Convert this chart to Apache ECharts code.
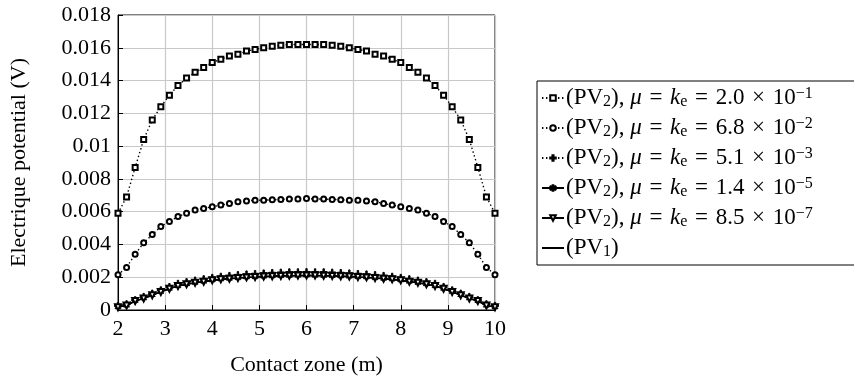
<!DOCTYPE html>
<html>
<head>
<meta charset="utf-8">
<script src="https://cdn.jsdelivr.net/npm/echarts@6/dist/echarts.min.js"></script>
<style>
  html, body { margin: 0; padding: 0; background: #fff; }
  #chart { width: 854px; height: 382px; }
</style>
</head>
<body>
<div id="chart"></div>
<script>
// contact zone positions (m)
var xs = [2.000, 2.182, 2.364, 2.545, 2.727, 2.909, 3.091, 3.273, 3.455, 3.636, 3.818,
  4.000, 4.182, 4.364, 4.545, 4.727, 4.909, 5.091, 5.273, 5.455, 5.636, 5.818, 6.000,
  6.182, 6.364, 6.545, 6.727, 6.909, 7.091, 7.273, 7.455, 7.636, 7.818, 8.000, 8.182,
  8.364, 8.545, 8.727, 8.909, 9.091, 9.273, 9.455, 9.636, 9.818, 10.000];

// PV2, mu = ke = 2.0e-1
var pvA = [0.0059, 0.0069, 0.0087, 0.0104, 0.0116, 0.0124, 0.0131, 0.0137, 0.01415, 0.0145, 0.0148,
  0.0151, 0.0153, 0.0155, 0.0156, 0.0158, 0.0159, 0.0160, 0.0161, 0.01615, 0.0162, 0.0162, 0.0162,
  0.0162, 0.0162, 0.01615, 0.0161, 0.0160, 0.0159, 0.0158, 0.0156, 0.0155, 0.0153, 0.0151, 0.0148,
  0.0145, 0.01415, 0.0137, 0.0131, 0.0124, 0.0116, 0.0104, 0.0087, 0.0069, 0.0059];
// PV2, mu = ke = 6.8e-2
var pvB = [0.00215, 0.0026, 0.0034, 0.0041, 0.0046, 0.0051, 0.0054, 0.0057, 0.0059, 0.0061, 0.0062,
  0.0063, 0.0064, 0.0065, 0.0066, 0.00665, 0.0067, 0.0067, 0.00672, 0.00675, 0.00677, 0.00678, 0.0068,
  0.00678, 0.00677, 0.00675, 0.00672, 0.0067, 0.0067, 0.00665, 0.0066, 0.0065, 0.0064, 0.0063, 0.0062,
  0.0061, 0.0059, 0.0057, 0.0054, 0.0051, 0.0046, 0.0041, 0.0034, 0.0026, 0.00215];
// PV2, mu = ke = 5.1e-3
var pvC = [0.00025, 0.00035, 0.0006, 0.0008, 0.0010, 0.0012, 0.0014, 0.0016, 0.0017, 0.0018, 0.00188,
  0.00196, 0.00203, 0.00208, 0.00213, 0.00217, 0.0022, 0.00223, 0.00226, 0.00228, 0.0023, 0.0023, 0.00231,
  0.0023, 0.0023, 0.00228, 0.00226, 0.00223, 0.0022, 0.00217, 0.00213, 0.00208, 0.00203, 0.00196, 0.00188,
  0.0018, 0.0017, 0.0016, 0.0014, 0.0012, 0.0010, 0.0008, 0.0006, 0.00035, 0.00025];
// PV2, mu = ke = 1.4e-5
var pvD = [0.00018, 0.00028, 0.00056, 0.00072, 0.00092, 0.00112, 0.00131, 0.00147, 0.00158, 0.00167, 0.00174,
  0.00182, 0.00188, 0.00192, 0.00196, 0.0020, 0.00202, 0.00205, 0.00207, 0.00209, 0.0021, 0.00211, 0.00212,
  0.00211, 0.0021, 0.00209, 0.00207, 0.00205, 0.00202, 0.0020, 0.00196, 0.00192, 0.00188, 0.00182, 0.00174,
  0.00167, 0.00158, 0.00147, 0.00131, 0.00112, 0.00092, 0.00072, 0.00056, 0.00028, 0.00018];
// PV2, mu = ke = 8.5e-7
var pvE = [0.00017, 0.00027, 0.00055, 0.0007, 0.0009, 0.0011, 0.0013, 0.00146, 0.00157, 0.00166, 0.00173,
  0.00181, 0.00187, 0.00191, 0.00195, 0.00199, 0.00201, 0.00204, 0.00206, 0.00208, 0.00209, 0.0021, 0.00211,
  0.0021, 0.00209, 0.00208, 0.00206, 0.00204, 0.00201, 0.00199, 0.00195, 0.00191, 0.00187, 0.00181, 0.00173,
  0.00166, 0.00157, 0.00146, 0.0013, 0.0011, 0.0009, 0.0007, 0.00055, 0.00027, 0.00017];
// PV1
var pv1 = [0.00017, 0.00027, 0.00055, 0.0007, 0.0009, 0.0011, 0.0013, 0.00145, 0.00156, 0.00165, 0.00172,
  0.0018, 0.00186, 0.0019, 0.00194, 0.00198, 0.0020, 0.00203, 0.00205, 0.00207, 0.00208, 0.00209, 0.0021,
  0.00209, 0.00208, 0.00207, 0.00205, 0.00203, 0.0020, 0.00198, 0.00194, 0.0019, 0.00186, 0.0018, 0.00172,
  0.00165, 0.00156, 0.00145, 0.0013, 0.0011, 0.0009, 0.0007, 0.00055, 0.00027, 0.00017];

var names = ['pvA', 'pvB', 'pvC', 'pvD', 'pvE', 'pv1'];
var coefs = { pvA: ['2.0', '−1'], pvB: ['6.8', '−2'], pvC: ['5.1', '−3'], pvD: ['1.4', '−5'], pvE: ['8.5', '−7'] };

var SP = '\u2004';
function label(n) {
  if (n === 'pv1') return '(PV{sub|1})';
  var c = coefs[n];
  return '(PV{sub|2}), {i|μ}' + SP + '=' + SP + '{i|k}{sub|e}' + SP + '=' + SP + c[0] +
    SP + '×' + SP + '10{sup|' + c[1] + '}';
}

var FONT = '"Liberation Serif", "DejaVu Serif", serif';
var FS = 22;
var LFS = 23;
var plus = 'path://M4,0h2v4h4v2h-4v4h-2v-4h-4v-2h4z';
var star = 'path://M4.4,0h1.2v3.9l3.4,-2l0.6,1l-3.4,2.1l3.4,2.1l-0.6,1l-3.4,-2v3.9h-1.2v-3.9l-3.4,2l-0.6,-1l3.4,-2.1l-3.4,-2.1l0.6,-1l3.4,2z';

function pair(arr) {
  return xs.map(function (x, i) { return [x, arr[i]]; });
}

function mk(name, arr, symbol, size, dotted, rotate) {
  return {
    name: name,
    type: 'line',
    data: pair(arr),
    symbol: symbol,
    symbolSize: size,
    symbolRotate: rotate || 0,
    showSymbol: symbol !== 'none',
    showAllSymbol: true,
    lineStyle: { color: '#000', width: dotted ? 1.4 : 1.3, type: dotted ? [1.4, 2.6] : 'solid' },
    itemStyle: { color: '#000', borderColor: '#000', borderWidth: 1 },
    emphasis: { disabled: true },
    animation: false
  };
}

var legendData = names.map(function (n) {
  if (n === 'pv1') {
    return { name: n, itemStyle: { color: 'rgba(0,0,0,0)', borderColor: 'rgba(0,0,0,0)', borderWidth: 0 } };
  }
  return { name: n };
});

var chart = echarts.init(document.getElementById('chart'));
chart.setOption({
  backgroundColor: '#fff',
  textStyle: { fontFamily: FONT },
  grid: {
    left: 118, right: 359, top: 15, bottom: 72,
    show: true, borderColor: '#000', borderWidth: 1, backgroundColor: 'transparent'
  },
  legend: {
    orient: 'vertical',
    left: 537, top: 81,
    data: legendData,
    itemWidth: 22, itemHeight: 7, itemGap: 6,
    padding: [5, 12, 5, 4],
    borderColor: '#000', borderWidth: 1,
    selectedMode: false,
    formatter: label,
    textStyle: {
      fontFamily: FONT, fontSize: LFS, lineHeight: 24, color: '#000', padding: [0, 0, 0, -3],
      width: 300,
      rich: {
        i: { fontFamily: FONT, fontSize: LFS, lineHeight: 24, fontStyle: 'italic', color: '#000' },
        sub: { fontFamily: FONT, fontSize: 16, lineHeight: 15, verticalAlign: 'bottom', color: '#000' },
        sup: { fontFamily: FONT, fontSize: 16, lineHeight: 13, verticalAlign: 'top', color: '#000' }
      }
    }
  },
  xAxis: {
    type: 'value', min: 2, max: 10, interval: 1,
    name: 'Contact zone (m)', nameLocation: 'middle', nameGap: 44,
    nameTextStyle: { fontFamily: FONT, fontSize: FS, color: '#000' },
    axisLine: { lineStyle: { color: '#000', width: 1 } },
    axisTick: { inside: true, length: 5, lineStyle: { color: '#000' } },
    axisLabel: { fontFamily: FONT, fontSize: FS, color: '#000', margin: 8 },
    splitLine: { lineStyle: { color: '#c8c8c8', width: 1.2 } }
  },
  yAxis: {
    type: 'value', min: 0, max: 0.018, interval: 0.002,
    name: 'Electrique potential (V)', nameLocation: 'middle', nameGap: 88, nameRotate: 90,
    nameTextStyle: { fontFamily: FONT, fontSize: FS, color: '#000' },
    axisLine: { show: true, lineStyle: { color: '#000', width: 1 } },
    axisTick: { show: true, inside: true, length: 5, lineStyle: { color: '#000' } },
    axisLabel: { fontFamily: FONT, fontSize: FS, color: '#000', margin: 7 },
    splitLine: { lineStyle: { color: '#c8c8c8', width: 1.2 } }
  },
  series: [
    mk('pvA', pvA, 'emptyRect', 5, true),
    mk('pvB', pvB, 'emptyCircle', 5, true),
    mk('pvC', pvC, plus, 7, true),
    mk('pvD', pvD, star, 6, false),
    mk('pvE', pvE, 'emptyTriangle', 6, false, 180),
    mk('pv1', pv1, 'none', 0, false)
  ]
});
</script>
</body>
</html>
